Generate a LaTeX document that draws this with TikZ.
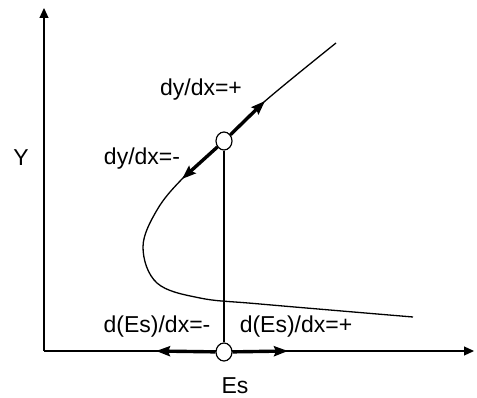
\documentclass[tikz,border=0pt]{standalone}
\usepackage{fontspec}
\setmainfont{Liberation Sans}
\usetikzlibrary{arrows.meta, positioning, shapes.geometric}

\begin{document}
\begin{tikzpicture}[
    x=1pt, y=-1pt,
    axis/.style={line width=1.2pt, -{Triangle[length=10pt, width=9pt]}},
    curve/.style={line width=1.3pt},
    bigarrow/.style={-{Stealth[length=14pt, width=10pt, inset=2pt]}, line width=3.4pt},
    state/.style={ellipse, draw, line width=1.2pt, fill=white, minimum width=16pt, minimum height=18pt, inner sep=0pt},
    lbl/.style={font=\fontsize{23}{26}\selectfont, inner sep=0pt, anchor=base},
]
    \useasboundingbox (0,0) rectangle (477,398);

    % Axes
    \coordinate (O) at (44,351);
    \coordinate (ytop) at (44,8);
    \coordinate (xend) at (474,351);
    \draw[axis] (O) -- (ytop);
    \draw[axis] (O) -- (xend);
    \node[lbl] (ylab) at (21,166) {Y};

    % Curve
    \draw[curve] plot[smooth, tension=0.6] coordinates {
        (336,43) (264,102) (224,141) (183,178) (157,210) (143,247)
        (157,283) (200,298) (260,304) (413,317)};

    % Operating point and its projection
    \node[state] (top) at (224,141) {};
    \node[state] (bot) at (224,352) {};
    \draw[line width=1.1pt] (top) -- (bot);

    % Slope arrows
    \coordinate (up) at (265,101);
    \coordinate (down) at (182,179);
    \coordinate (left) at (156,351);
    \coordinate (right) at (288,351);
    \draw[bigarrow] (top) -- (up);
    \draw[bigarrow] (top) -- (down);
    \draw[bigarrow] (bot) -- (left);
    \draw[bigarrow] (bot) -- (right);

    % Labels
    \node[lbl] (dyp) at (201,96) {dy/dx=+};
    \node[lbl] (dym) at (142,165) {dy/dx=-};
    \node[lbl] (dem) at (157,333) {d(Es)/dx=-};
    \node[lbl] (dep) at (296,333) {d(Es)/dx=+};
    \node[lbl] (es) at (235,393) {Es};
\end{tikzpicture}
\end{document}
